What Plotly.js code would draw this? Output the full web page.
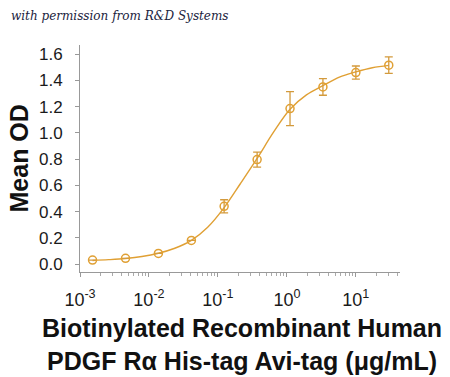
<!DOCTYPE html>
<html>
<head>
<meta charset="utf-8">
<script src="https://cdn.plot.ly/plotly-3.0.1.min.js"></script>
<style>
html,body{margin:0;padding:0;background:#fff;}
#chart{width:450px;height:377px;}
</style>
</head>
<body>
<div id="chart"></div>
<script>
// Measured points (concentration in µg/mL, mean OD, error)
const concentration = [0.00152, 0.00457, 0.0137, 0.0412, 0.123, 0.370, 1.11, 3.33, 10, 30];
const meanOD        = [0.030, 0.043, 0.081, 0.180, 0.440, 0.796, 1.185, 1.350, 1.460, 1.516];
const errorOD       = [0.000, 0.000, 0.000, 0.000, 0.050, 0.057, 0.130, 0.063, 0.050, 0.063];

// Fitted curve
const curveX = [0.00152, 0.0026, 0.00457, 0.0079, 0.0137, 0.0237, 0.0412, 0.071, 0.123, 0.21, 0.37, 0.64, 1.11, 1.92, 3.33, 5.77, 10, 17.3, 30];
const curveY = [0.027, 0.033, 0.042, 0.057, 0.082, 0.120, 0.180, 0.280, 0.430, 0.610, 0.805, 1.005, 1.180, 1.290, 1.360, 1.425, 1.465, 1.497, 1.515];

// Axis tick labels
const xTickVals = [0.001, 0.01, 0.1, 1, 10];
const xTickText = ['10<sup>-3</sup>', '10<sup>-2</sup>', '10<sup>-1</sup>', '10<sup>0</sup>', '10<sup>1</sup>'];
const yTickVals = [0, 0.2, 0.4, 0.6, 0.8, 1.0, 1.2, 1.4, 1.6];
const yTickText = ['0.0', '0.2', '0.4', '0.6', '0.8', '1.0', '1.2', '1.4', '1.6'];

const xTitleLines = ['Biotinylated Recombinant Human', 'PDGF R\u03B1 His-tag Avi-tag (\u03BCg/mL)'];
const yTitle = 'Mean OD';
const credit = 'with permission from R&D Systems';

const minorVals = [];
for (let e = -3; e <= 1; e++) for (let k = 2; k <= 9; k++) minorVals.push(k * Math.pow(10, e));

const lineColor = '#E0A034';
const font = 'Liberation Sans, Arial, sans-serif';

const traces = [
  {x: curveX, y: curveY, mode: 'lines', type: 'scatter', line: {color: lineColor, width: 1.4, shape: 'spline', smoothing: 1}, hoverinfo: 'skip'},
  {x: concentration, y: meanOD, mode: 'markers', type: 'scatter',
   marker: {symbol: 'circle-open', size: 8, color: lineColor, line: {width: 1.5, color: lineColor}},
   error_y: {type: 'data', array: errorOD, visible: true, color: '#D39A3C', thickness: 1.3, width: 4}}
];

const layout = {
  width: 450, height: 377,
  margin: {l: 80, r: 50, t: 45, b: 105},
  paper_bgcolor: '#fff', plot_bgcolor: '#fff',
  showlegend: false,
  font: {family: font, color: '#1a1a1a'},
  xaxis: {
    type: 'log', range: [-3, 1.64],
    tickmode: 'array', tickvals: xTickVals, ticktext: xTickText,
    ticks: 'outside', ticklen: 4, tickcolor: '#999', tickwidth: 1,
    minor: {tickmode: 'array', tickvals: minorVals, ticks: 'outside', ticklen: 2.5, tickcolor: '#aaa'},
    showline: true, linecolor: '#999', linewidth: 1,
    showgrid: false, zeroline: false,
    tickfont: {size: 18, family: font, color: '#1a1a1a'},
    ticklabelstandoff: 7
  },
  yaxis: {
    range: [-0.061, 1.67],
    tickmode: 'array', tickvals: yTickVals, ticktext: yTickText,
    ticks: 'outside', ticklen: 4, tickcolor: '#999', tickwidth: 1,
    showline: true, linecolor: '#999', linewidth: 1,
    showgrid: false, zeroline: false,
    tickfont: {size: 17, family: font, color: '#1a1a1a'},
    ticklabelstandoff: 9
  },
  annotations: [
    {text: '<b>' + xTitleLines.join('<br>') + '</b>', xref: 'paper', yref: 'paper', x: 0.505, y: 0, yshift: -40,
     xanchor: 'center', yanchor: 'top', showarrow: false, font: {size: 25, family: font, color: '#111'}},
    {text: '<b>' + yTitle + '</b>', xref: 'paper', yref: 'paper', x: 0, xshift: -62, y: 0.5,
     xanchor: 'center', yanchor: 'middle', textangle: -90, showarrow: false, font: {size: 25, family: font, color: '#111'}},
    {text: '<i>' + credit + '</i>', xref: 'paper', yref: 'paper', x: 0, xshift: -71, y: 1, yshift: 29,
     xanchor: 'left', yanchor: 'middle', showarrow: false, font: {size: 12, family: 'DejaVu Serif, serif', color: '#1b2340'}}
  ]
};

Plotly.newPlot('chart', traces, layout, {displayModeBar: false, staticPlot: true});
</script>
</body>
</html>
